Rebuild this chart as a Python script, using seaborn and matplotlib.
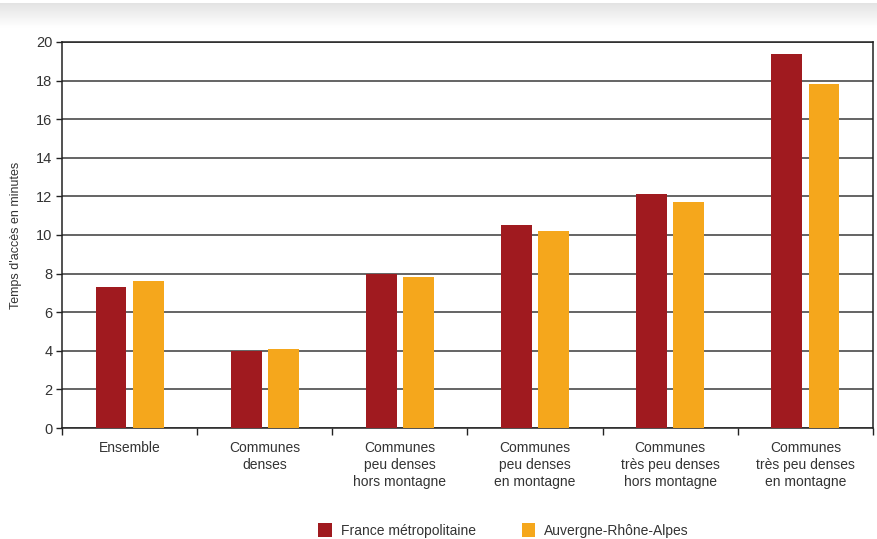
import matplotlib
matplotlib.use("Agg")
import matplotlib.pyplot as plt
import numpy as np
import pandas as pd
import seaborn as sns
from matplotlib.patches import Patch

categories = [
    "Ensemble",
    "Communes\ndenses",
    "Communes\npeu denses\nhors montagne",
    "Communes\npeu denses\nen montagne",
    "Communes\ntrès peu denses\nhors montagne",
    "Communes\ntrès peu denses\nen montagne",
]
series = ["France métropolitaine", "Auvergne-Rhône-Alpes"]
france = [7.3, 4.0, 8.0, 10.5, 12.1, 19.4]
ara = [7.6, 4.1, 7.8, 10.2, 11.7, 17.8]
colors = ["#A01A1F", "#F5A71C"]

df = pd.DataFrame({
    "cat": categories * 2,
    "serie": [series[0]] * 6 + [series[1]] * 6,
    "val": france + ara,
})

sns.set_theme(style="white")
plt.rcParams["font.family"] = ["Liberation Sans", "DejaVu Sans"]
txt = "#333333"

fig = plt.figure(figsize=(8.77, 5.39), dpi=100)

# grey header band
hax = fig.add_axes([0.0, 1 - 28 / 539, 1, 25 / 539])
grad = np.linspace(0.89, 1.0, 50).reshape(-1, 1)
hax.imshow(grad, aspect="auto", cmap="gray", vmin=0, vmax=1, extent=[0, 1, 0, 1])
hax.axis("off")

ax = fig.add_axes([62 / 877, 111 / 539, 811 / 877, 386 / 539])
sns.barplot(data=df, x="cat", y="val", hue="serie", palette=colors,
            width=0.55, gap=0.17, saturation=1, linewidth=0,
            ax=ax, legend=False, zorder=3)

ax.set_ylim(0, 20)
ax.set_yticks(range(0, 21, 2))
ax.set_xlim(-0.5, 5.5)
ax.yaxis.grid(True, color="#3a3a3a", lw=1.1, zorder=0)
ax.set_axisbelow(True)
for s in ax.spines.values():
    s.set_visible(True)
    s.set_color("#222222")
    s.set_linewidth(1.1)

ax.set_xlabel("")
ax.set_ylabel("Temps d'accès en minutes", fontsize=9, color=txt, labelpad=10)
ax.set_xticks(range(6))
ax.set_xticklabels(categories, fontsize=10, color=txt, linespacing=1.3)
ax.set_xticks(np.arange(-0.5, 6, 1), minor=True)
ax.tick_params(axis="x", which="major", length=0, pad=9)
ax.tick_params(axis="x", which="minor", length=5, width=1, color="#222222", direction="out", bottom=True)
ax.tick_params(axis="y", length=4, width=1, color="#222222", left=True, labelsize=10.5, labelcolor=txt, pad=3)

handles = [Patch(facecolor=c, edgecolor="none") for c in colors]
fig.legend(handles, series, loc="center", bbox_to_anchor=(0.574, 0.016), ncol=2,
           frameon=False, fontsize=10, handlelength=1.0, handleheight=1.2,
           columnspacing=3.3, handletextpad=0.6, labelcolor=txt)

fig.savefig("out.png", dpi=100, facecolor="white")
